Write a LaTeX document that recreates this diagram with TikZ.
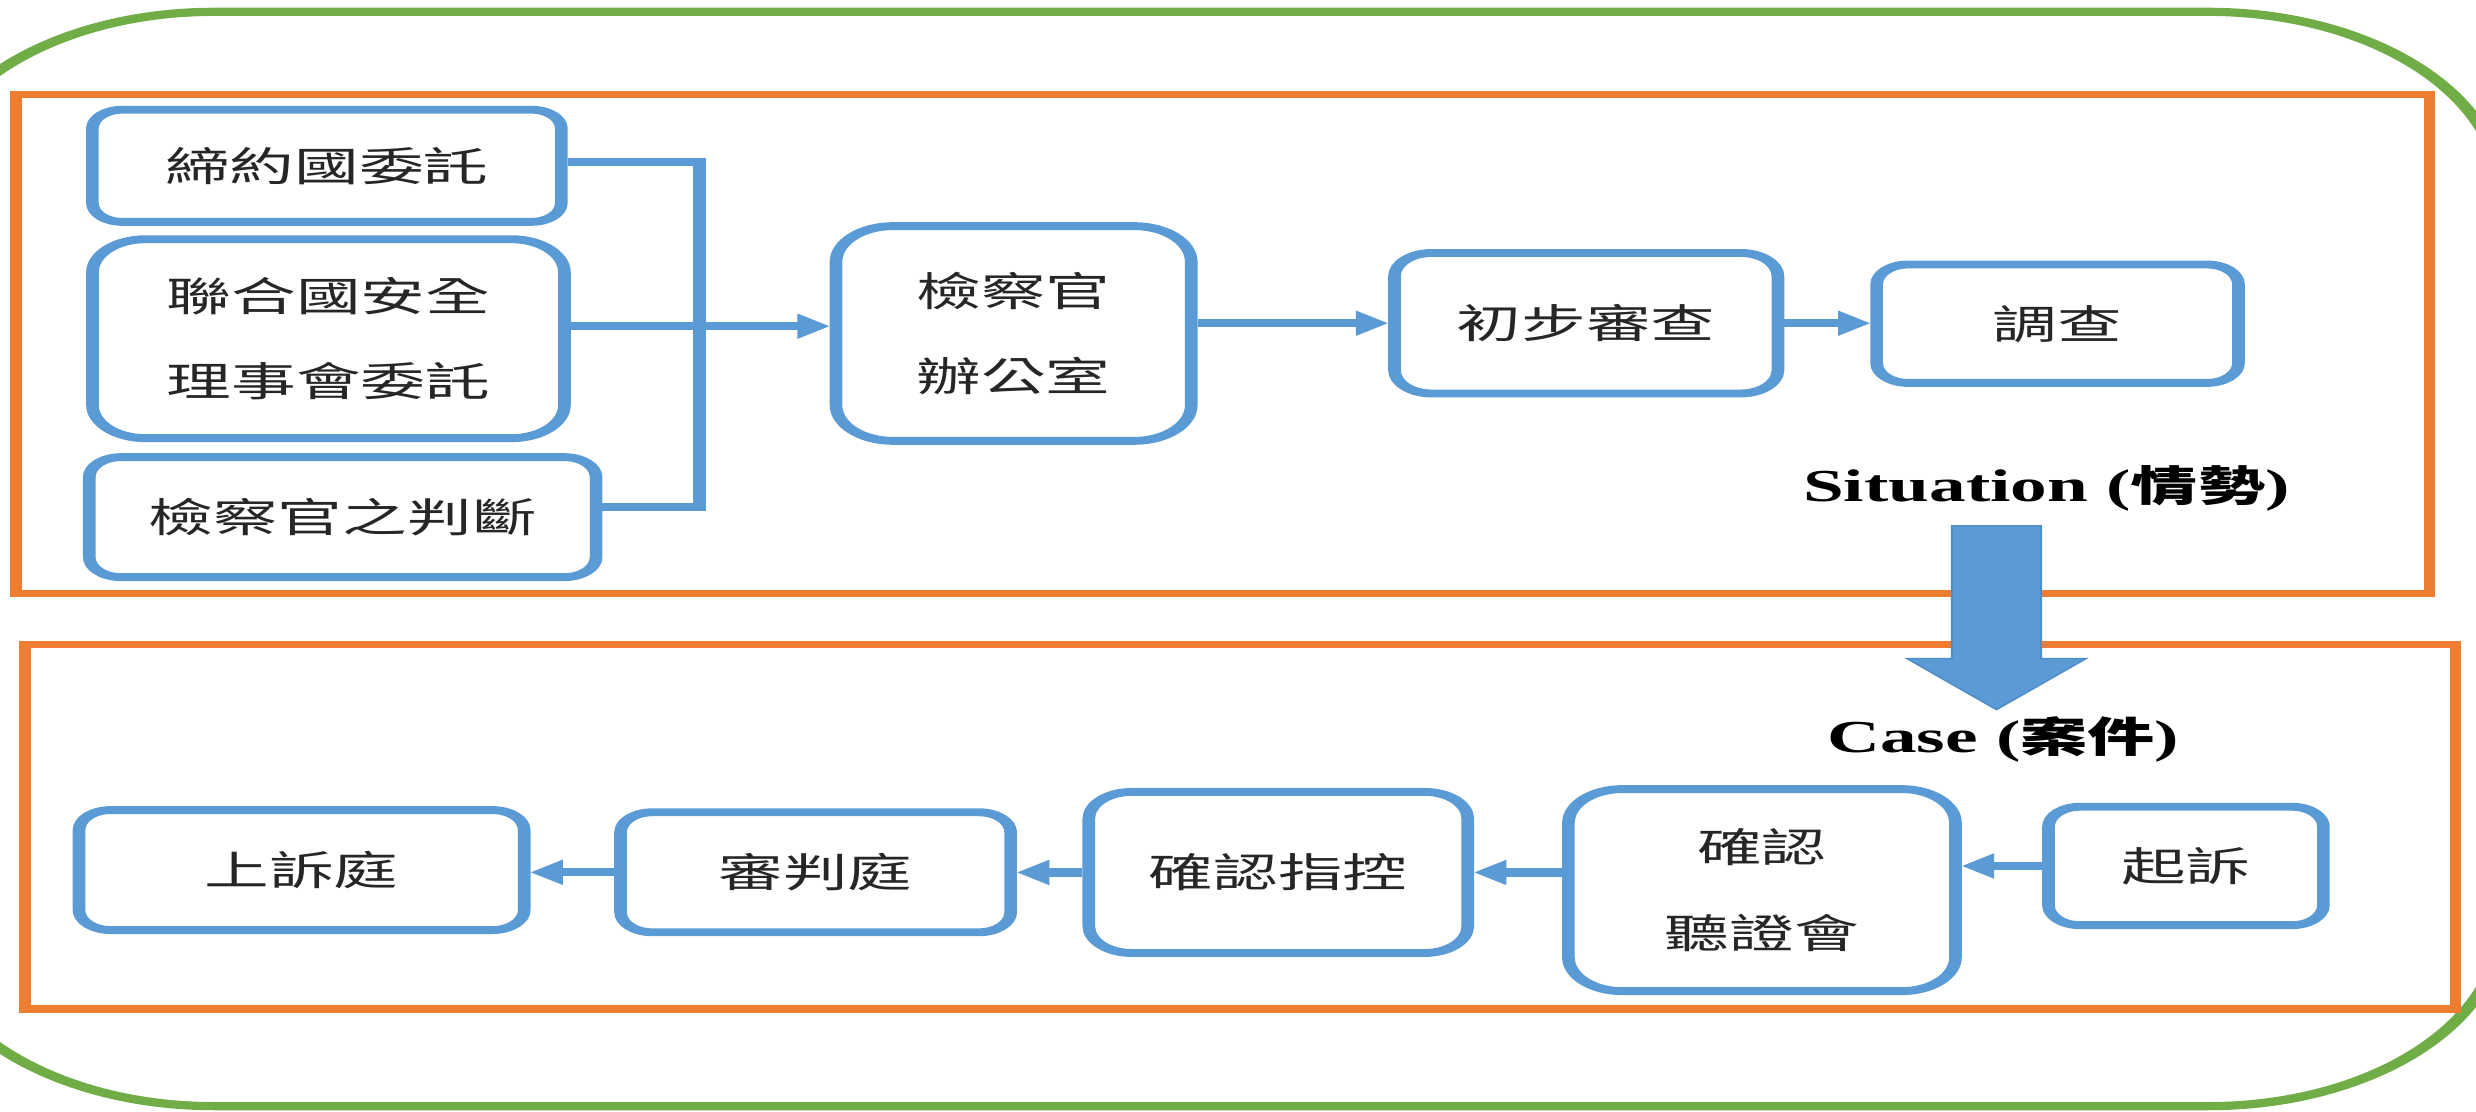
\documentclass[tikz,border=0pt]{standalone}
\usepackage{fontspec}
\setmainfont{Liberation Serif}
\newfontfamily\cjk{Noto Sans CJK TC}
\usetikzlibrary{arrows.meta}
\definecolor{gframe}{HTML}{70AD47}
\definecolor{oframe}{HTML}{ED7D31}
\definecolor{bline}{HTML}{5B9BD5}
\definecolor{bdark}{HTML}{4F8DC9}
\definecolor{tdark}{HTML}{262626}
\tikzset{
  rbox/.style={draw=bline, line width=2.5pt, rounded corners=#1, fill=white,
    inner sep=0pt, font=\cjk\fontsize{12.8}{27}\selectfont, text=tdark, align=center},
  conn/.style={draw=bline, line width=2.6pt},
  arr/.style={conn, -{Triangle[length=6.4pt,width=7.6pt]}},
  frameline/.style={draw=oframe, line width=2.3pt},
  lab/.style={inner sep=0pt, font=\bfseries\fontsize{14.5}{17}\selectfont, text=black},
}
\begin{document}
\begin{tikzpicture}
\useasboundingbox (0,0) rectangle (784pt,-352pt);
\fill[white] (0,0) rectangle (784pt,-352pt);
\begin{scope}[transform canvas={xscale=1.6}, x=0.3125pt, y=-0.5pt]
  % outer green frame
  \draw[draw=gframe, line width=2.6pt, rounded corners=58pt] (-50,7.5) rectangle (1584,700.5);
  % orange frames
  \draw[frameline] (10,60) rectangle (1538.5,376);
  \draw[frameline] (16,408) rectangle (1555,639);

  % top row nodes
  \node[rbox=5.9pt, minimum width=92.8pt, minimum height=35.5pt] (b1) at (207,105) {締約國委託};
  \node[rbox=10.5pt, minimum width=93.4pt, minimum height=63pt] (b2) at (208,214.5) {聯合國安全\\理事會委託};
  \node[rbox=6.3pt, minimum width=100.3pt, minimum height=38pt] (b3) at (217,327.5) {檢察官之判斷};
  \node[rbox=11.3pt, minimum width=70.3pt, minimum height=68pt] (bO) at (641.9,211.2) {檢察官\\辦公室};
  \node[rbox=7.4pt, minimum width=75.9pt, minimum height=44.5pt] (bP) at (1004.5,204.7) {初步審查};
  \node[rbox=6.25pt, minimum width=71.6pt, minimum height=37.5pt] (bI) at (1303,205) {調查};

  % bottom row nodes
  \node[rbox=6.3pt, minimum width=88.1pt, minimum height=38pt] (c1) at (191,551) {上訴庭};
  \node[rbox=6.3pt, minimum width=77.2pt, minimum height=38pt] (c2) at (516.5,552.4) {審判庭};
  \node[rbox=8.5pt, minimum width=75pt, minimum height=51pt] (c3) at (809.5,552.5) {確認指控};
  \node[rbox=10.7pt, minimum width=76.6pt, minimum height=64pt] (c4) at (1115.8,563.7) {確認\\聽證會};
  \node[rbox=6.25pt, minimum width=54.4pt, minimum height=37.5pt] (c5) at (1384.3,548.4) {起訴};

  % labels
  \node[lab] (sit) at (1296,309) {Situation ({\cjk\fontsize{13.3}{17}\selectfont 情勢})};
  \node[lab] (case) at (1268.6,468.3) {Case ({\cjk\fontsize{13.3}{17}\selectfont 案件})};

  % big block arrow
  \filldraw[fill=bline, draw=bdark, line width=0.4pt]
    (1236,333) -- (1292.6,333) -- (1292.6,417) -- (1321.2,417) -- (1264.3,449.4)
    -- (1207.5,417) -- (1236,417) -- cycle;

  % connectors
  \coordinate (busT) at (443,102.7);
  \coordinate (busM) at (443,206.6);
  \coordinate (busB) at (443,321);
  \draw[conn] (b1.east |- busT) -- (busT) -- (busB) -- (b3.east |- busB);
  \draw[arr] (b2.east |- busM) -- (bO.west |- busM);
  \draw[arr] (bO.east |- bP.west) -- (bP.west);
  \draw[arr] (bP.east) -- (bI.west |- bP.east);
  \draw[arr] (c5.west) -- (c4.east |- c5.west);
  \draw[arr] (c4.west |- c3.east) -- (c3.east);
  \draw[arr] (c3.west) -- (c2.east |- c3.west);
  \draw[arr] (c2.west) -- (c1.east |- c2.west);
\end{scope}
\end{tikzpicture}
\end{document}
